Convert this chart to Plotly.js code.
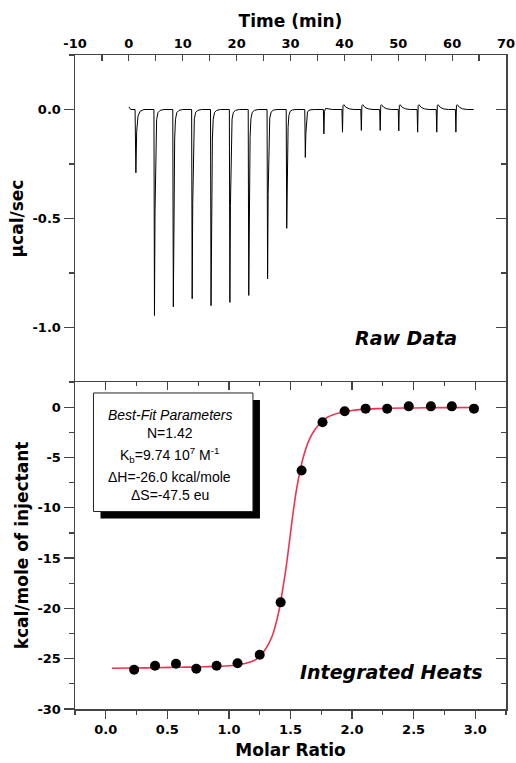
<!DOCTYPE html>
<html>
<head>
<meta charset="utf-8">
<script src="https://cdn.plot.ly/plotly-3.0.1.min.js"></script>
<style>html,body{margin:0;padding:0;background:#fff;}#chart{width:516px;height:763px;}</style>
</head>
<body>
<div id="chart"></div>
<script>
// ---- Raw ITC thermogram (time in min, power in µcal/sec) ----
const rawTime = [
  0.0, 0.35, 1.15, 1.3, 1.45, 1.7, 2.1, 2.8,
  4.65, 4.75, 4.85, 5.0, 5.15, 5.4, 5.8, 6.5,
  8.15, 8.25, 8.35, 8.5, 8.65, 8.9, 9.3, 10.0,
  11.65, 11.75, 11.85, 12.0, 12.15, 12.4, 12.8, 13.5,
  15.15, 15.25, 15.35, 15.5, 15.65, 15.9, 16.3, 17.0,
  18.65, 18.75, 18.85, 19.0, 19.15, 19.4, 19.8, 20.5,
  22.15, 22.25, 22.35, 22.5, 22.65, 22.9, 23.3, 24.0,
  25.65, 25.75, 25.85, 26.0, 26.15, 26.4, 26.8, 27.5,
  29.2, 29.3, 29.4, 29.55, 29.7, 29.95, 30.35, 31.05,
  32.65, 32.75, 32.85, 33.0, 33.15, 33.4, 33.8, 34.5,
  36.1, 36.2, 36.3, 36.5, 37.0, 37.8,
  39.55, 39.65, 39.75, 39.9, 40.3, 40.9, 41.8,
  43.05, 43.15, 43.25, 43.4, 43.8, 44.4, 45.3,
  46.55, 46.65, 46.75, 46.9, 47.3, 47.9, 48.8,
  50.0, 50.1, 50.2, 50.35, 50.75, 51.35, 52.25,
  53.5, 53.6, 53.7, 53.85, 54.25, 54.85, 55.75,
  57.05, 57.15, 57.25, 57.4, 57.8, 58.4, 59.3,
  60.6, 60.7, 60.8, 60.95, 61.35, 61.95, 62.85,
  64.0
];
const rawPower = [
  0.012, 0.0, 0.0, -0.29, -0.1, -0.03, -0.008, 0.0,
  0.0, -0.945, -0.47, -0.14, -0.047, -0.014, -0.004, 0.0,
  0.0, -0.905, -0.45, -0.135, -0.045, -0.014, -0.004, 0.0,
  0.0, -0.868, -0.43, -0.13, -0.043, -0.013, -0.004, 0.0,
  0.0, -0.9, -0.45, -0.135, -0.045, -0.014, -0.004, 0.0,
  0.0, -0.885, -0.44, -0.13, -0.044, -0.013, -0.004, 0.0,
  0.0, -0.853, -0.42, -0.128, -0.043, -0.013, -0.004, 0.0,
  0.0, -0.777, -0.39, -0.117, -0.039, -0.012, -0.003, 0.0,
  0.0, -0.545, -0.27, -0.082, -0.027, -0.008, -0.002, 0.0,
  0.0, -0.22, -0.11, -0.035, -0.012, -0.004, -0.001, 0.0,
  0.0, -0.112, -0.01, 0.005, 0.003, 0.0,
  0.0, -0.104, 0.018, 0.022, 0.01, 0.003, 0.0,
  0.0, -0.096, 0.018, 0.022, 0.01, 0.003, 0.0,
  0.0, -0.096, 0.018, 0.022, 0.01, 0.003, 0.0,
  0.0, -0.098, 0.018, 0.022, 0.01, 0.003, 0.0,
  0.0, -0.104, 0.018, 0.022, 0.01, 0.003, 0.0,
  0.0, -0.104, 0.018, 0.022, 0.01, 0.003, 0.0,
  0.0, -0.104, 0.018, 0.022, 0.01, 0.003, 0.0,
  0.0
];

// ---- Integrated heats (kcal/mole of injectant vs molar ratio) ----
const molarRatio = [0.23, 0.40, 0.57, 0.735, 0.90, 1.07, 1.25, 1.42, 1.59, 1.76, 1.94, 2.11, 2.285, 2.46, 2.64, 2.81, 2.99];
const heat = [-26.1, -25.7, -25.5, -26.0, -25.7, -25.45, -24.6, -19.4, -6.3, -1.5, -0.4, -0.15, -0.15, 0.08, 0.08, 0.08, -0.15];

// ---- Best-fit curve ----
const fitRatio = [0.05, 0.2, 0.4, 0.6, 0.8, 1.0, 1.1, 1.2, 1.25, 1.3, 1.35, 1.4, 1.43, 1.46, 1.49, 1.52, 1.55, 1.58, 1.61, 1.65, 1.7, 1.75, 1.8, 1.9, 2.0, 2.2, 2.5, 2.8, 3.0];
const fitHeat = [-25.95, -25.93, -25.9, -25.85, -25.8, -25.7, -25.55, -25.2, -24.8, -24.0, -22.8, -20.6, -18.6, -16.3, -13.5, -10.6, -8.1, -6.2, -4.7, -3.3, -2.2, -1.5, -1.0, -0.55, -0.33, -0.15, -0.08, -0.05, -0.04];

// ---- Tick labels ----
const timeTicks = [-10, 0, 10, 20, 30, 40, 50, 60, 70];
const timeLabels = ["-10", "0", "10", "20", "30", "40", "50", "60", "70"];
const powerTicks = [-1.0, -0.5, 0.0];
const powerLabels = ["-1.0", "-0.5", "0.0"];
const ratioTicks = [0.0, 0.5, 1.0, 1.5, 2.0, 2.5, 3.0];
const ratioLabels = ["0.0", "0.5", "1.0", "1.5", "2.0", "2.5", "3.0"];
const heatTicks = [-30, -25, -20, -15, -10, -5, 0];
const heatLabels = ["-30", "-25", "-20", "-15", "-10", "-5", "0"];

// ---- Text ----
const fitParams = [
  "<i>Best-Fit Parameters</i>",
  "N=1.42",
  "K<sub>b</sub>=9.74 10<sup>7</sup> M<sup>-1</sup>",
  "\u0394H=-26.0 kcal/mole",
  "\u0394S=-47.5 eu"
];

const FONT = "Liberation Sans, Arial, Helvetica, sans-serif";
const BOLDFONT = "DejaVu Sans, Verdana, sans-serif";
const AX = "#444";

const traces = [
  {x: rawTime, y: rawPower, xaxis: 'x', yaxis: 'y', mode: 'lines', line: {color: '#000', width: 1}, hoverinfo: 'skip'},
  {x: fitRatio, y: fitHeat, xaxis: 'x2', yaxis: 'y2', mode: 'lines', line: {color: 'rgb(238,50,80)', width: 1.6, shape: 'spline'}, hoverinfo: 'skip'},
  {x: molarRatio, y: heat, xaxis: 'x2', yaxis: 'y2', mode: 'markers', marker: {color: '#000', size: 10}, hoverinfo: 'skip'},
  {x: [], y: [], xaxis: 'x3', yaxis: 'y2', mode: 'markers'},
  {x: [], y: [], xaxis: 'x', yaxis: 'y3', mode: 'markers'},
  {x: [], y: [], xaxis: 'x2', yaxis: 'y4', mode: 'markers'}
];

const tickFont = {family: BOLDFONT, size: 13, color: '#000', weight: 'bold'};
const titleFont = {family: BOLDFONT, size: 17, color: '#000', weight: 'bold'};

const annotations = [
  {xref: 'x', yref: 'y', x: 51.4, y: -1.05, text: '<b><i>Raw Data</i></b>', showarrow: false, font: {family: BOLDFONT, size: 19, color: '#000'}},
  {xref: 'x2', yref: 'y2', x: 2.32, y: -26.3, text: '<b><i>Integrated Heats</i></b>', showarrow: false, font: {family: BOLDFONT, size: 19, color: '#000'}}
];
const paramY = [-0.75, -2.55, -4.75, -6.9, -8.7];
fitParams.forEach((t, i) => annotations.push({xref: 'x2', yref: 'y2', x: 0.52, y: paramY[i], text: t, showarrow: false, font: {family: FONT, size: 14, color: '#000'}}));

const layout = {
  width: 516, height: 763,
  margin: {l: 75, r: 10, t: 55, b: 54},
  paper_bgcolor: '#fff', plot_bgcolor: '#fff',
  showlegend: false,
  font: {family: FONT, color: '#000'},
  xaxis: {
    domain: [0, 1], anchor: 'y', side: 'top', range: [-10, 70],
    tickmode: 'array', tickvals: timeTicks, ticktext: timeLabels,
    ticks: 'inside', ticklen: 6, tickcolor: AX, tickwidth: 1.2,
    minor: {tickmode: 'linear', tick0: 0, dtick: 5, ticks: 'inside', ticklen: 6, tickcolor: AX, tickwidth: 1.2},
    showline: true, linecolor: AX, linewidth: 1.5, showgrid: false, zeroline: false,
    tickfont: tickFont, title: {text: 'Time (min)', font: titleFont, standoff: 4}
  },
  yaxis: {
    domain: [0.5, 1], anchor: 'x', range: [-1.25, 0.25],
    tickmode: 'array', tickvals: powerTicks, ticktext: powerLabels,
    ticks: 'outside', ticklen: 10, tickcolor: AX, tickwidth: 1.2,
    minor: {tickmode: 'linear', tick0: 0, dtick: 0.25, ticks: 'outside', ticklen: 5, tickcolor: AX, tickwidth: 1.2},
    showline: true, linecolor: AX, linewidth: 1.5, showgrid: false, zeroline: false,
    tickfont: tickFont, title: {text: '\u00b5cal/sec', font: titleFont, standoff: 4}
  },
  yaxis3: {
    overlaying: 'y', anchor: 'x', side: 'right', range: [-1.25, 0.25], dtick: 0.5,
    ticks: 'inside', ticklen: 10, tickcolor: AX, tickwidth: 1.2,
    minor: {dtick: 0.25, ticks: 'inside', ticklen: 5, tickcolor: AX, tickwidth: 1.2},
    showline: true, linecolor: AX, linewidth: 1.5, showgrid: false, zeroline: false, showticklabels: false
  },
  xaxis2: {
    domain: [0, 1], anchor: 'y2', range: [-0.25, 3.25],
    tickmode: 'array', tickvals: ratioTicks, ticktext: ratioLabels,
    ticks: 'outside', ticklen: 8, tickcolor: AX, tickwidth: 1.2,
    minor: {tickmode: 'linear', tick0: 0, dtick: 0.25, ticks: 'outside', ticklen: 4, tickcolor: AX, tickwidth: 1.2},
    showline: true, linecolor: AX, linewidth: 1.5, showgrid: false, zeroline: false,
    tickfont: tickFont, title: {text: 'Molar Ratio', font: titleFont, standoff: 8}
  },
  xaxis3: {
    overlaying: 'x2', anchor: 'y2', side: 'top', range: [-0.25, 3.25], dtick: 0.5,
    ticks: 'inside', ticklen: 8, tickcolor: AX, tickwidth: 1.2,
    minor: {dtick: 0.25, ticks: 'inside', ticklen: 4, tickcolor: AX, tickwidth: 1.2},
    showline: true, linecolor: AX, linewidth: 1.5, showgrid: false, zeroline: false, showticklabels: false
  },
  yaxis2: {
    domain: [0, 0.5], anchor: 'x2', range: [-30, 2.5],
    tickmode: 'array', tickvals: heatTicks, ticktext: heatLabels,
    ticks: 'outside', ticklen: 10, tickcolor: AX, tickwidth: 1.2,
    minor: {tickmode: 'linear', tick0: 0, dtick: 2.5, ticks: 'outside', ticklen: 5, tickcolor: AX, tickwidth: 1.2},
    showline: true, linecolor: AX, linewidth: 1.5, showgrid: false, zeroline: false,
    tickfont: tickFont, title: {text: 'kcal/mole of injectant', font: titleFont, standoff: 4}
  },
  yaxis4: {
    overlaying: 'y2', anchor: 'x2', side: 'right', range: [-30, 2.5], dtick: 5,
    ticks: 'inside', ticklen: 10, tickcolor: AX, tickwidth: 1.2,
    minor: {dtick: 2.5, ticks: 'inside', ticklen: 5, tickcolor: AX, tickwidth: 1.2},
    showline: true, linecolor: AX, linewidth: 1.5, showgrid: false, zeroline: false, showticklabels: false
  },
  shapes: [
    {type: 'rect', xref: 'x2', yref: 'y2', x0: -0.043, x1: 1.252, y0: 0.71, y1: -11.07, fillcolor: '#000', line: {width: 0}, layer: 'above'},
    {type: 'rect', xref: 'x2', yref: 'y2', x0: -0.10, x1: 1.195, y0: 1.41, y1: -10.37, fillcolor: '#fff', line: {color: '#222', width: 1}, layer: 'above'}
  ],
  annotations: annotations
};

Plotly.newPlot('chart', traces, layout, {displayModeBar: false, staticPlot: true});
</script>
</body>
</html>
